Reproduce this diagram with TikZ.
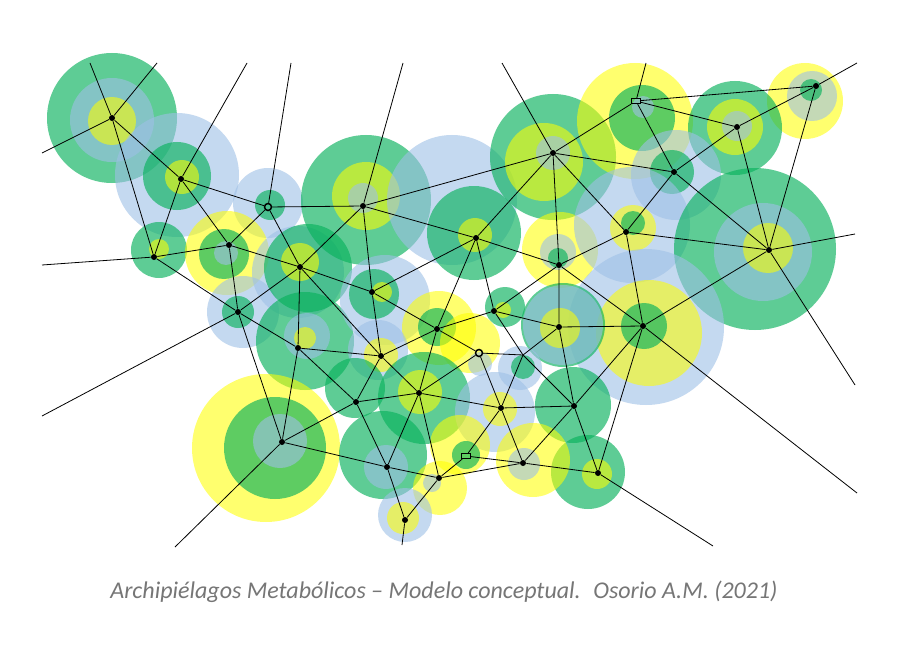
\documentclass[tikz,border=0pt]{standalone}
\usepackage{fontspec}
\setmainfont{Carlito}
\usepackage{tikz}
\definecolor{verde}{RGB}{9,178,93}
\definecolor{azul}{RGB}{158,192,230}
\definecolor{amarillo}{RGB}{255,255,0}
\definecolor{gris}{RGB}{118,118,118}
\tikzset{
  isla verde/.style={fill=verde, fill opacity=0.65},
  isla azul/.style={fill=azul, fill opacity=0.6},
  isla amarilla/.style={fill=amarillo, fill opacity=0.57},
  punto/.style={circle, fill=black, inner sep=0pt, minimum size=6pt},
  anillo/.style={circle, draw=black, line width=1.5pt, inner sep=0pt, minimum size=7pt},
  cuadro/.style={rectangle, draw=black, line width=1.2pt, inner sep=0pt, minimum width=9pt, minimum height=5pt},
}
\begin{document}
\begin{tikzpicture}[x=1pt, y=-1pt, line width=0.8pt]
	\fill[white] (0,0) rectangle (918,666);
	\useasboundingbox (0,0) rectangle (918,666);
	%Islas
	%A
	\fill[isla verde] (112,118) circle (65);
	\fill[isla azul] (112,120) circle (42);
	\fill[isla amarilla] (112,121) circle (24);
	%B
	\fill[isla azul] (177,175) circle (62);
	\fill[isla verde] (177,176) circle (34);
	\fill[isla amarilla] (182,177) circle (17);
	%C
	\fill[isla azul] (268,203) circle (35);
	\fill[isla verde] (270,205) circle (15);
	%D
	\fill[isla verde] (159,250) circle (28);
	\fill[isla amarilla] (159,249) circle (10);
	%E
	\fill[isla amarilla] (227,253) circle (42);
	\fill[isla verde] (224,254) circle (25);
	\fill[isla azul] (226,253) circle (12);
	%R
	\fill[isla azul] (243,312) circle (36);
	\fill[isla verde] (238,312) circle (16);
	%F
	\fill[isla azul] (298,272) circle (46);
	\fill[isla verde] (308,268) circle (44);
	\fill[isla amarilla] (300,262) circle (19);
	%S
	\fill[isla verde] (305,341) circle (49);
	\fill[isla azul] (307,336) circle (23);
	\fill[isla amarilla] (305,338) circle (11);
	%T
	\fill[isla amarilla] (266,448) circle (74);
	\fill[isla verde] (275,448) circle (51);
	\fill[isla azul] (280,441) circle (27);
	%G
	\fill[isla verde] (366,200) circle (65);
	\fill[isla amarilla] (366,196) circle (34);
	\fill[isla azul] (363,198) circle (15);
	%I
	\fill[isla azul] (452,200) circle (65);
	\fill[isla verde] (474,233) circle (47);
	\fill[isla amarilla] (475,235) circle (17);
	%K
	\fill[isla azul] (385,300) circle (45);
	\fill[isla verde] (374,294) circle (25);
	\fill[isla amarilla] (382,292) circle (10);
	%H
	\fill[isla verde] (553,157) circle (63);
	\fill[isla amarilla] (544,162) circle (39);
	\fill[isla azul] (553,153) circle (17);
	%J
	\fill[isla amarilla] (560,250) circle (38);
	\fill[isla azul] (558,252) circle (18);
	\fill[isla verde] (558,258) circle (10);
	%L
	\fill[isla amarilla] (635,121) circle (58);
	\fill[isla verde] (642,118) circle (33);
	\fill[isla azul] (643,107) circle (11);
	%M
	\fill[isla amarilla] (805,101) circle (38);
	\fill[isla azul] (812,96) circle (25);
	\fill[isla verde] (811,90) circle (11);
	%N
	\fill[isla verde] (735,128) circle (47);
	\fill[isla amarilla] (735,127) circle (28);
	\fill[isla azul] (737,126) circle (15);
	%O
	\fill[isla azul] (676,175) circle (45);
	\fill[isla verde] (672,172) circle (22);
	%P
	\fill[isla azul] (632,225) circle (58);
	\fill[isla amarilla] (633,228) circle (23);
	\fill[isla verde] (633,223) circle (12);
	%Q
	\fill[isla verde] (755,249) circle (81);
	\fill[isla azul] (763,252) circle (49);
	\fill[isla amarilla] (768,248) circle (25);
	%AL
	\fill[isla azul] (646,327) circle (78);
	\fill[isla amarilla] (649,333) circle (53);
	\fill[isla verde] (644,326) circle (23);
	%AD
	\fill[isla verde] (573,405) circle (38);
	%AJ
	\fill[isla verde] (588,472) circle (37);
	\fill[isla amarilla] (597,474) circle (15);
	%Z
	\fill[isla verde] (563,325) circle (42);
	\fill[isla azul] (563,325) circle (40);
	\fill[isla amarilla] (560,328) circle (20);
	%Y
	\fill[isla verde] (505,307) circle (20);
	\fill[isla amarilla] (503,310) circle (8);
	%V
	\fill[isla amarilla] (439,328) circle (37);
	\fill[isla verde] (437,327) circle (19);
	%X
	\fill[isla amarilla] (470,343) circle (30);
	\fill[isla azul] (480,364) circle (12);
	\fill[isla azul] (520,368) circle (22);
	\fill[isla verde] (523,367) circle (12);
	%W
	\fill[isla azul] (378,350) circle (30);
	\fill[isla amarilla] (381,355) circle (17);
	%AB
	\fill[isla verde] (355,388) circle (30);
	%AA
	\fill[isla verde] (424,398) circle (46);
	\fill[isla amarilla] (420,392) circle (22);
	%AC
	\fill[isla azul] (495,412) circle (40);
	\fill[isla amarilla] (500,409) circle (17);
	%AE
	\fill[isla amarilla] (460,445) circle (30);
	\fill[isla verde] (466,455) circle (14);
	%AF
	\fill[isla verde] (383,455) circle (44);
	\fill[isla azul] (386,467) circle (22);
	%AG
	\fill[isla amarilla] (440,488) circle (27);
	\fill[isla azul] (432,483) circle (9);
	%AH
	\fill[isla amarilla] (533,460) circle (37);
	\fill[isla azul] (524,464) circle (16);
	%AI
	\fill[isla azul] (405,515) circle (27);
	\fill[isla amarilla] (403,518) circle (16);
	%Nodos
	\node[punto] (A) at (112,118) {};
	\node[punto] (B) at (181,179) {};
	\node[anillo] (C) at (268,207) {};
	\node[punto] (D) at (154,257) {};
	\node[punto] (E) at (229,245) {};
	\node[punto] (F) at (300,267) {};
	\node[punto] (G) at (363,206) {};
	\node[punto] (H) at (553,153) {};
	\node[punto] (I) at (476,238) {};
	\node[punto] (J) at (559,265) {};
	\node[punto] (K) at (372,292) {};
	\node[cuadro] (L) at (636,101) {};
	\node[punto] (M) at (816,86) {};
	\node[punto] (N) at (737,127) {};
	\node[punto] (O) at (674,172) {};
	\node[punto] (P) at (626,232) {};
	\node[punto] (Q) at (769,250) {};
	\node[punto] (R) at (238,312) {};
	\node[punto] (S) at (298,348) {};
	\node[punto] (T) at (282,442) {};
	\node[punto] (V) at (437,329) {};
	\node[punto] (W) at (381,356) {};
	\node[anillo] (X) at (479,353) {};
	\node[punto] (Y) at (494,311) {};
	\node[punto] (Z) at (559,327) {};
	\node[punto] (AA) at (419,393) {};
	\node[punto] (AB) at (356,402) {};
	\node[punto] (AC) at (501,408) {};
	\node[punto] (AD) at (574,406) {};
	\node[cuadro] (AE) at (466,456) {};
	\node[punto] (AF) at (387,467) {};
	\node[punto] (AG) at (439,478) {};
	\node[punto] (AH) at (523,463) {};
	\node[punto] (AI) at (405,520) {};
	\node[punto] (AJ) at (598,473) {};
	\node[punto] (AL) at (643,326) {};
	\coordinate (x0) at (523,355);
	%Extremos libres
	\coordinate (a1) at (90,63);
	\coordinate (a2) at (157,63);
	\coordinate (a3) at (42,153);
	\coordinate (b1) at (247,63);
	\coordinate (c1) at (291,63);
	\coordinate (d1) at (42,265);
	\coordinate (g1) at (403,63);
	\coordinate (h1) at (502,63);
	\coordinate (l1) at (646,63);
	\coordinate (m1) at (857,63);
	\coordinate (q1) at (855,234);
	\coordinate (q2) at (855,385);
	\coordinate (al1) at (857,493);
	\coordinate (aj1) at (713,546);
	\coordinate (ai1) at (402,545);
	\coordinate (t1) at (175,547);
	\coordinate (r1) at (42,416);
	%Conexiones
	\draw (A) -- (a1) (A) -- (a2) (A) -- (a3) (A) -- (B) (A) -- (D);
	\draw (B) -- (b1) (B) -- (C) (B) -- (D) (B) -- (E);
	\draw (C) -- (c1) (C) -- (E) (C) -- (G) (C) -- (F);
	\draw (D) -- (d1) (D) -- (E) (D) -- (R);
	\draw (E) -- (F) (E) -- (R);
	\draw (F) -- (G) (F) -- (K) (F) -- (S) (F) -- (R) (F) -- (W);
	\draw (G) -- (g1) (G) -- (H) (G) -- (I) (G) -- (K);
	\draw (H) -- (h1) (H) -- (I) (H) -- (J) (H) -- (L) (H) -- (O) (H) -- (P);
	\draw (I) -- (K) (I) -- (J) (I) -- (V) (I) -- (Y);
	\draw (J) -- (P) (J) -- (Y) (J) -- (Z) (J) -- (AL);
	\draw (K) -- (V) (K) -- (W);
	\draw (V) -- (Y) (V) -- (X) (V) -- (W) (V) -- (AA);
	\draw (W) -- (S) (W) -- (AB) (W) -- (AA);
	\draw (X) -- (x0) (X) -- (AA) (X) -- (AC);
	\draw (Y) -- (x0) (Y) -- (Z);
	\draw (x0) -- (AD) (x0) -- (AC) (x0) -- (Z);
	\draw (Z) -- (AD) (Z) -- (AL);
	\draw (AA) -- (AB) (AA) -- (AF) (AA) -- (AG);
	\draw (AB) -- (T) (AB) -- (S) (AB) -- (AF);
	\draw (AC) -- (AE) (AC) -- (AH) (AC) -- (AD) (AC) -- (AA);
	\draw (AD) -- (AH) (AD) -- (AJ) (AD) -- (AL);
	\draw (AE) -- (AG) (AE) -- (AH);
	\draw (AF) -- (AG) (AF) -- (AI) (AF) -- (T);
	\draw (AG) -- (AI) (AG) -- (AH);
	\draw (AH) -- (AJ);
	\draw (AI) -- (ai1);
	\draw (AJ) -- (AL) (AJ) -- (aj1);
	\draw (AL) -- (Q) (AL) -- (P) (AL) -- (al1);
	\draw (L) -- (l1) (L) -- (M) (L) -- (N) (L) -- (O);
	\draw (M) -- (m1) (M) -- (N) (M) -- (Q);
	\draw (N) -- (O) (N) -- (Q);
	\draw (O) -- (P) (O) -- (Q);
	\draw (P) -- (Q);
	\draw (Q) -- (q1) (Q) -- (q2);
	\draw (R) -- (S) (R) -- (T) (R) -- (r1);
	\draw (S) -- (T);
	\draw (T) -- (t1);
	%Titulo
	\node[text=gris, font=\itshape\fontsize{24}{28}\selectfont] (titulo) at (444,592) {Archipiélagos Metabólicos – Modelo conceptual.~ Osorio A.M. (2021)};
\end{tikzpicture}
\end{document}
